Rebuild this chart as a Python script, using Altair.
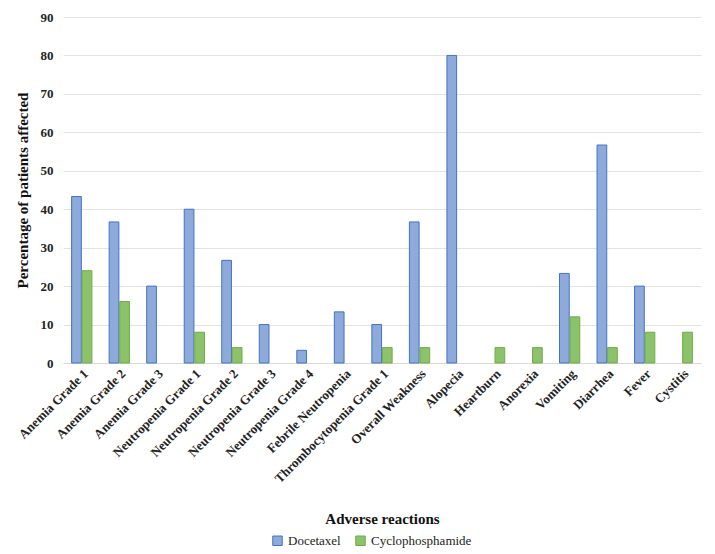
import altair as alt
import pandas as pd

categories = ["Anemia Grade 1", "Anemia Grade 2", "Anemia Grade 3", "Neutropenia Grade 1",
              "Neutropenia Grade 2", "Neutropenia Grade 3", "Neutropenia Grade 4",
              "Febrile Neutropenia", "Thrombocytopenia Grade 1", "Overall Weakness",
              "Alopecia", "Heartburn", "Anorexia", "Vomiting", "Diarrhea", "Fever", "Cystitis"]
docetaxel = [43.3, 36.7, 20, 40, 26.7, 10, 3.3, 13.3, 10, 36.7, 80, 0, 0, 23.3, 56.7, 20, 0]
cyclophosphamide = [24, 16, 0, 8, 4, 0, 0, 0, 4, 4, 0, 4, 4, 12, 4, 8, 8]
series = ["Docetaxel", "Cyclophosphamide"]

rows = []
for i, c in enumerate(categories):
    rows.append({"cat": c, "series": series[0], "value": docetaxel[i]})
    rows.append({"cat": c, "series": series[1], "value": cyclophosphamide[i]})
df = pd.DataFrame(rows)

FONT = "Liberation Serif"

chart = alt.Chart(df).transform_filter("datum.value > 0").mark_bar(strokeWidth=1).encode(
    x=alt.X("cat:N", sort=categories, title="Adverse reactions",
            scale=alt.Scale(domain=categories, paddingInner=0.46, paddingOuter=0.23),
            axis=alt.Axis(labelAngle=-45, labelFont=FONT, labelFontSize=13, labelFontWeight="bold",
                          labelColor="#222", ticks=False, domainColor="#d9d9d9",
                          titleFont=FONT, titleFontSize=15, titleFontWeight="bold",
                          titleColor="#111", titlePadding=26, labelPadding=4)),
    xOffset=alt.XOffset("series:N", sort=series, scale=alt.Scale(domain=series, paddingInner=0.08)),
    y=alt.Y("value:Q", title="Percentage of patients affected",
            scale=alt.Scale(domain=[0, 90]),
            axis=alt.Axis(values=list(range(0, 91, 10)), labelFont=FONT, labelFontSize=13,
                          labelFontWeight="bold", labelColor="#222", ticks=False, domain=False,
                          gridColor="#e3e3e3", titleFont=FONT, titleFontSize=15,
                          titleFontWeight="bold", titleColor="#111", labelPadding=10, titlePadding=10)),
    color=alt.Color("series:N", sort=series, title=None,
                    scale=alt.Scale(domain=series, range=["#8EAADB", "#8CC269"]),
                    legend=alt.Legend(orient="none", legendX=208, legendY=517, direction="horizontal",
                                      labelFont=FONT, labelFontSize=13, labelColor="#222",
                                      symbolType="square", symbolSize=90, symbolStrokeWidth=1,
                                      columnPadding=12)),
    stroke=alt.Stroke("series:N", sort=series,
                      scale=alt.Scale(domain=series, range=["#4472C4", "#70AD47"]), legend=None),
).properties(width=638, height=346, padding={"left": 7, "top": 3, "right": 3, "bottom": 5}
).configure_view(stroke=None).configure_legend(labelFont=FONT, labelFontSize=13)

chart.save("out.html", embed_options={"renderer": "svg", "actions": False})
